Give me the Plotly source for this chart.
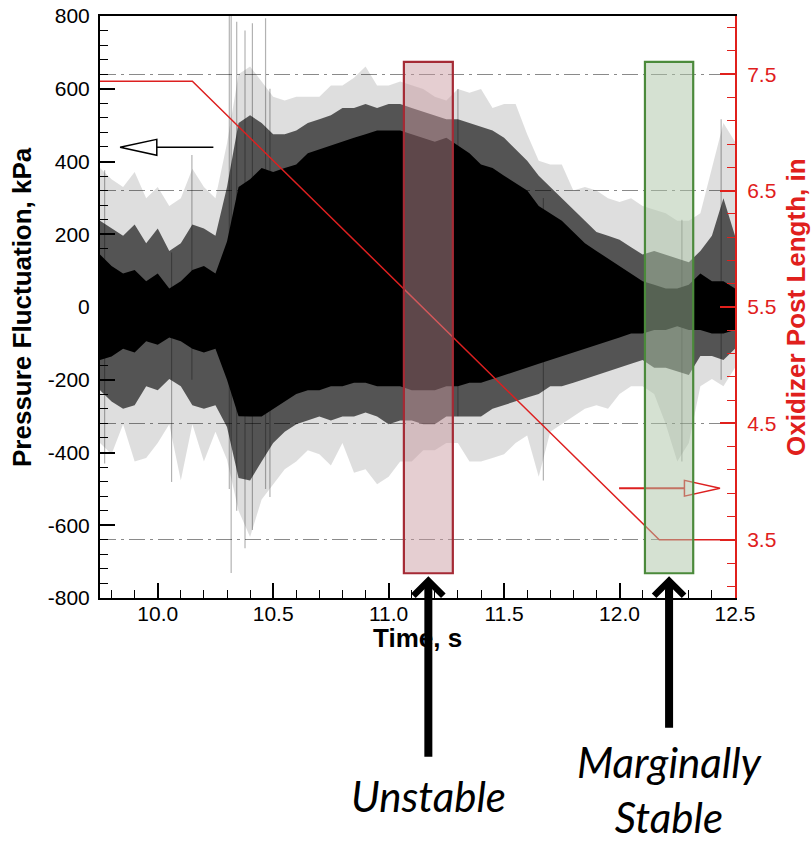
import plotly.graph_objects as go

# ---------------- data ----------------
time_s = [9.75, 9.80, 9.85, 9.90, 9.95, 10.00, 10.05, 10.10, 10.15, 10.20,
          10.25, 10.30, 10.35, 10.40, 10.45, 10.50, 10.55, 10.60, 10.65, 10.70,
          10.75, 10.80, 10.85, 10.90, 10.95, 11.00, 11.05, 11.10, 11.15, 11.20,
          11.25, 11.30, 11.35, 11.40, 11.45, 11.50, 11.55, 11.60, 11.65, 11.70,
          11.75, 11.80, 11.85, 11.90, 11.95, 12.00, 12.05, 12.10, 12.15, 12.20,
          12.25, 12.30, 12.35, 12.40, 12.45, 12.50]

# solid black core of the pressure trace (kPa)
core_hi = [144, 113, 92, 102, 71, 92, 51, 71, 102, 113,
           92, 180, 330, 351, 382, 371, 382, 392, 423, 434,
           444, 454, 465, 475, 485, 485, 485, 475, 465, 454,
           465, 444, 423, 392, 382, 361, 340, 320, 278, 258,
           237, 206, 175, 154, 133, 113, 92, 71, 61, 51,
           51, 61, 92, 71, 71, 51]
core_lo = [-146, -136, -115, -125, -94, -104, -84, -94, -115, -125,
           -115, -200, -300, -301, -301, -280, -260, -239, -229, -229,
           -218, -218, -208, -208, -218, -218, -218, -229, -229, -229,
           -218, -218, -208, -208, -198, -187, -177, -167, -156, -146,
           -136, -125, -115, -104, -94, -84, -73, -73, -63, -63,
           -53, -63, -63, -73, -73, -63]
# dense dark-grey fringe
mid_hi = [237, 216, 196, 227, 175, 216, 154, 175, 227, 216,
          196, 330, 506, 527, 506, 475, 475, 485, 506, 516,
          527, 547, 547, 558, 547, 558, 558, 547, 537, 527,
          516, 516, 506, 496, 485, 465, 434, 402, 361, 330,
          299, 268, 237, 206, 196, 185, 164, 144, 154, 144,
          133, 123, 154, 196, 299, 196]
mid_lo = [-229, -260, -280, -270, -218, -229, -198, -218, -270, -280,
          -270, -330, -470, -477, -425, -374, -343, -322, -312, -301,
          -312, -301, -301, -290, -301, -322, -312, -312, -322, -322,
          -301, -301, -301, -301, -280, -270, -260, -249, -239, -218,
          -218, -208, -198, -187, -177, -167, -156, -146, -167, -167,
          -177, -187, -135, -135, -146, -115]
# light-grey outer spikes
outer_hi = [382, 351, 330, 371, 299, 330, 278, 299, 380, 330,
            299, 450, 640, 661, 620, 578, 568, 578, 578, 578,
            609, 609, 630, 661, 609, 609, 620, 609, 599, 578,
            568, 599, 589, 599, 547, 558, 558, 475, 402, 392,
            392, 320, 330, 320, 299, 289, 299, 278, 268, 258,
            237, 237, 258, 382, 506, 454]
outer_lo = [-374, -405, -322, -425, -415, -374, -322, -477, -322, -425,
            -343, -420, -560, -632, -529, -487, -446, -425, -394, -405,
            -436, -374, -456, -446, -487, -467, -425, -425, -394, -394,
            -374, -374, -425, -425, -415, -405, -374, -353, -467, -343,
            -322, -301, -280, -270, -280, -239, -218, -218, -239, -322,
            -425, -374, -218, -198, -218, -167]

# individual extreme spikes
spike_t = [9.77, 10.06, 10.148, 10.31, 10.318, 10.342, 10.378, 10.41, 10.467, 10.486,
           11.30, 11.67, 12.27, 12.44]
spike_top = [376, 150, 418, 800, 800, 784, 760, 780, 794, 600,
             599, 300, 240, 516]
spike_bot = [-430, -481, -200, -500, -731, -560, -663, -613, -500, -522,
             -300, -477, -425, -200]

# oxidizer post length (in)
ox_t = [9.75, 10.15, 12.172, 12.50]
ox_len = [7.44, 7.44, 3.50, 3.50]

# axis ticks
p_ticks = [-800, -600, -400, -200, 0, 200, 400, 600, 800]
p_labels = ["-800", "-600", "-400", "-200", "0", "200", "400", "600", "800"]
len_ticks = [3.5, 4.5, 5.5, 6.5, 7.5]
len_labels = ["3.5", "4.5", "5.5", "6.5", "7.5"]
t_ticks = [10.0, 10.5, 11.0, 11.5, 12.0, 12.5]
t_labels = ["10.0", "10.5", "11.0", "11.5", "12.0", "12.5"]

# highlighted regions
region_labels = ["Unstable", "Marginally<br>Stable"]
region_t0 = [11.066, 12.110]
region_t1 = [11.278, 12.319]
region_p_lo = [-732, -732]
region_p_hi = [674, 674]
region_line = ["#a52a35", "#4b8a3b"]
region_fill = ["rgba(200,150,158,0.47)", "rgba(172,196,166,0.50)"]

FONT = "Liberation Sans"
RED = "#e0201c"

fig = go.Figure()


def band(hi, lo, color):
    fig.add_trace(go.Scatter(
        x=time_s + time_s[::-1], y=hi + lo[::-1], fill="toself",
        fillcolor=color, line=dict(width=0), mode="lines",
        hoverinfo="skip", showlegend=False))


band(outer_hi, outer_lo, "rgba(0,0,0,0.13)")
sx, sy = [], []
for t, a, b in zip(spike_t, spike_top, spike_bot):
    sx += [t, t, None]
    sy += [b, a, None]
fig.add_trace(go.Scatter(x=sx, y=sy, mode="lines",
                         line=dict(color="rgba(0,0,0,0.30)", width=1.2),
                         showlegend=False, hoverinfo="skip"))
band(mid_hi, mid_lo, "rgba(0,0,0,0.62)")
band(core_hi, core_lo, "rgba(0,0,0,1)")

fig.add_trace(go.Scatter(x=ox_t, y=ox_len, yaxis="y2", mode="lines",
                         line=dict(color="#dd2020", width=1.5),
                         showlegend=False, hoverinfo="skip"))

# ---------------- shapes ----------------
shapes = []
shapes.append(dict(type="line", xref="x", yref="y", x0=9.996, x1=10.241, y0=439, y1=439,
                   line=dict(color="black", width=1.5)))
shapes.append(dict(type="path", xref="x", yref="y",
                   path="M 9.837,439 L 9.996,461 L 9.996,417 Z",
                   fillcolor="white", line=dict(color="black", width=1.5)))
shapes.append(dict(type="line", xref="x", yref="y2", x0=11.998, x1=12.281, y0=3.943, y1=3.943,
                   line=dict(color="#dd2020", width=2)))
shapes.append(dict(type="path", xref="x", yref="y2",
                   path="M 12.435,3.943 L 12.281,4.011 L 12.281,3.875 Z",
                   fillcolor="white", line=dict(color="#dd2020", width=1.5)))
for t0, t1, lo, hi, lc, fc in zip(region_t0, region_t1, region_p_lo, region_p_hi,
                                  region_line, region_fill):
    shapes.append(dict(type="rect", xref="x", yref="y", x0=t0, x1=t1, y0=lo, y1=hi,
                       fillcolor=fc, line=dict(color=lc, width=2.2), layer="above"))

# ---------------- annotations ----------------
ann = []
ann.append(dict(text="<b>Pressure Fluctuation, kPa</b>", xref="paper", yref="paper",
                x=0, y=0.5, xshift=-78, textangle=-90, showarrow=False,
                font=dict(family=FONT, size=26, color="black"),
                xanchor="center", yanchor="middle"))
ann.append(dict(text="<b>Oxidizer Post Length, in</b>", xref="paper", yref="paper",
                x=1, y=0.5, xshift=61, textangle=-90, showarrow=False,
                font=dict(family=FONT, size=26, color=RED),
                xanchor="center", yanchor="middle"))
ann.append(dict(text="<b>Time, s</b>", xref="paper", yref="paper",
                x=0.5, y=0, yshift=-40, showarrow=False,
                font=dict(family=FONT, size=26, color="black"),
                xanchor="center", yanchor="middle"))
arrow_len = [182, 153]
label_y = [-0.341, -0.3285]
for lbl, t0, t1, al, ly in zip(region_labels, region_t0, region_t1, arrow_len, label_y):
    xc = (t0 + t1) / 2
    ann.append(dict(text="", xref="x", yref="y", x=xc, y=-740, ax=0, ay=al,
                    showarrow=True, arrowhead=4, arrowsize=0.72, arrowwidth=8,
                    arrowcolor="black", standoff=0))
    ann.append(dict(text="<i>" + lbl + "</i>", xref="x", yref="paper", x=xc, y=ly,
                    showarrow=False, font=dict(family="Lato", size=42, color="black"),
                    xanchor="center", yanchor="middle"))

fig.update_layout(
    width=811, height=844,
    margin=dict(l=100, r=76, t=16, b=246, autoexpand=False),
    paper_bgcolor="white", plot_bgcolor="white",
    showlegend=False, hovermode=False,
    shapes=shapes, annotations=ann,
    xaxis=dict(range=[9.75, 12.5], tickvals=t_ticks, ticktext=t_labels, automargin=False,
               ticks="inside", ticklen=15, tickwidth=1.5, tickcolor="black",
               ticklabelstandoff=-4, ticklabeloverflow="allow",
               minor=dict(dtick=0.1, tick0=10.0, ticks="inside", ticklen=8,
                          tickwidth=1, tickcolor="black"),
               showline=True, linecolor="black", linewidth=2, mirror=True,
               showgrid=False, zeroline=False,
               tickfont=dict(family=FONT, size=21, color="black")),
    yaxis=dict(range=[-800, 800], tickvals=p_ticks, ticktext=p_labels, automargin=False,
               ticks="inside", ticklen=15, tickwidth=1.5, tickcolor="black",
               ticklabelstandoff=4, ticklabeloverflow="allow",
               minor=dict(dtick=40, tick0=0, ticks="inside", ticklen=8,
                          tickwidth=1, tickcolor="black"),
               showline=True, linecolor="black", linewidth=2,
               showgrid=False, zeroline=False,
               tickfont=dict(family=FONT, size=21, color="black")),
    yaxis2=dict(range=[3, 8], overlaying="y", side="right", automargin=False,
                tickvals=len_ticks, ticktext=len_labels,
                ticks="inside", ticklen=15, tickwidth=1.5, tickcolor=RED,
                ticklabelstandoff=6, ticklabeloverflow="allow",
                minor=dict(dtick=0.2, tick0=3.5, ticks="inside", ticklen=8,
                           tickwidth=1, tickcolor=RED),
                showline=True, linecolor=RED, linewidth=2,
                showgrid=True, gridcolor="#8a8a8a", gridwidth=1.3,
                griddash="16px,5px,3px,5px", zeroline=False,
                tickfont=dict(family=FONT, size=21, color=RED)),
)

# remove the browser's default 8 px body margin so the figure sits at the page origin
fig.write_html("out.html", config={"displayModeBar": False},
               post_script="document.body.style.margin='0px';")
